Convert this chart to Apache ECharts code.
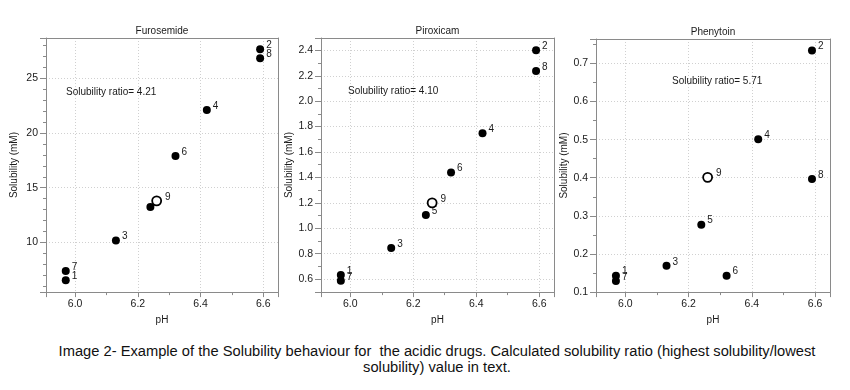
<!DOCTYPE html>
<html>
<head>
<meta charset="utf-8">
<script src="https://cdn.jsdelivr.net/npm/echarts@6/dist/echarts.min.js"></script>
<style>
  html, body { margin: 0; padding: 0; background: #fff; }
  #chart { width: 850px; height: 330px; }
  #caption { position: relative; left: 12px; width: 850px; text-align: center; font-family: 'Liberation Sans', Arial, sans-serif; font-size: 14.7px; line-height: 16px; color: #111; margin-top: 13px; }
</style>
</head>
<body>
<div id="chart"></div>
<div id="caption">Image 2- Example of the Solubility behaviour for&nbsp; the acidic drugs. Calculated solubility ratio (highest solubility/lowest<br>solubility) value in text.</div>
<script>
// ---- data ----
const pointIds = ['1', '2', '3', '4', '5', '6', '7', '8', '9'];
const pH = [5.97, 6.59, 6.13, 6.42, 6.24, 6.32, 5.97, 6.59, 6.26];
const drugNames = ['Furosemide', 'Piroxicam', 'Phenytoin'];
const furosemide = [6.53, 27.67, 10.18, 22.12, 13.24, 17.9, 7.38, 26.85, 13.8];
const piroxicam = [0.633, 2.40, 0.844, 1.747, 1.105, 1.438, 0.587, 2.238, 1.2];
const phenytoin = [0.143, 0.734, 0.169, 0.501, 0.277, 0.143, 0.129, 0.397, 0.401];
const ratios = ['4.21', '4.10', '5.71'];
const openPointId = '9';
const hiddenLabels = [['5'], [], []];

// ---- layout / style ----
const FONT = "'Liberation Sans', Arial, sans-serif";
const grids = [
  { left: 46, top: 38, width: 232, height: 264 },
  { left: 321, top: 38, width: 233, height: 263 },
  { left: 596, top: 39, width: 234, height: 262 }
];
const xRange = [5.907, 6.647];
const yRanges = [[5.45, 28.7], [0.498, 2.497], [0.1, 0.764]];
const ySplit = [5, 10, 6];
const yMinor = [5, 2, 2];
const yShowMin = [false, false, true];
const ratioPos = [[66, 87], [348, 86], [672, 76]];
const solubility = [furosemide, piroxicam, phenytoin];

const axisColor = '#8a8a8a';
const textColor = '#1a1a1a';

const option = {
  animation: false,
  backgroundColor: '#fff',
  textStyle: { fontFamily: FONT },
  title: [],
  grid: [],
  xAxis: [],
  yAxis: [],
  series: []
};

drugNames.forEach((name, i) => {
  const g = grids[i];
  option.grid.push(Object.assign({ show: false }, g));
  option.title.push({
    text: name, left: g.left + g.width / 2, top: g.top - 12, textAlign: 'center', padding: 0,
    textStyle: { fontSize: 10, fontWeight: 'normal', color: textColor, fontFamily: FONT }
  });
  option.title.push({
    text: 'Solubility ratio= ' + ratios[i], left: ratioPos[i][0], top: ratioPos[i][1], padding: 0,
    textStyle: { fontSize: 10, fontWeight: 'normal', color: textColor, fontFamily: FONT }
  });
  const splitLine = { show: true, showMinLine: false, showMaxLine: false, lineStyle: { color: '#d0d0d0', type: [1, 2], width: 1 } };
  option.xAxis.push({
    type: 'value', gridIndex: i, position: 'bottom', min: xRange[0], max: xRange[1], splitNumber: 4,
    name: 'pH', nameLocation: 'middle', nameGap: 21,
    nameTextStyle: { fontSize: 10, color: textColor, fontFamily: FONT },
    axisLine: { show: true, onZero: false, lineStyle: { color: axisColor, width: 1 } },
    axisTick: { show: true, inside: false, length: 5, lineStyle: { color: axisColor } },
    minorTick: { show: true, splitNumber: 2, length: 3, lineStyle: { color: axisColor } },
    axisLabel: { fontSize: 10.5, color: textColor, margin: 7, showMinLabel: false, showMaxLabel: false,
      formatter: v => v.toFixed(1) },
    splitLine: splitLine
  });
  option.yAxis.push({
    type: 'value', gridIndex: i, position: 'left', min: yRanges[i][0], max: yRanges[i][1], splitNumber: ySplit[i],
    name: 'Solubility (mM)', nameLocation: 'middle', nameGap: 27, nameRotate: 90,
    nameTextStyle: { fontSize: 10, color: textColor, fontFamily: FONT },
    axisLine: { show: true, onZero: false, lineStyle: { color: axisColor, width: 1 } },
    axisTick: { show: true, inside: false, length: 6, lineStyle: { color: axisColor } },
    minorTick: { show: true, splitNumber: yMinor[i], length: 3, lineStyle: { color: axisColor } },
    axisLabel: { fontSize: 10.5, color: textColor, margin: 8, showMinLabel: yShowMin[i], showMaxLabel: false,
      formatter: v => (i === 0 ? String(Math.round(v)) : v.toFixed(1)) },
    splitLine: splitLine
  });

  const filled = [];
  const open = [];
  pointIds.forEach((id, k) => {
    const item = {
      value: [pH[k], solubility[i][k]],
      label: { show: hiddenLabels[i].indexOf(id) < 0, formatter: id }
    };
    if (id === openPointId) open.push(item); else filled.push(item);
  });
  const labelStyle = { position: 'right', distance: 2, offset: [0, -4], fontSize: 10, color: textColor, fontFamily: FONT };
  option.series.push({
    type: 'scatter', xAxisIndex: i, yAxisIndex: i, symbol: 'circle', symbolSize: 8,
    itemStyle: { color: '#000', opacity: 1 }, label: labelStyle, data: filled, z: 3
  });
  option.series.push({
    type: 'scatter', xAxisIndex: i, yAxisIndex: i, symbol: 'circle', symbolSize: 9,
    itemStyle: { color: '#fff', borderColor: '#000', borderWidth: 1.8, opacity: 1 },
    label: Object.assign({}, labelStyle, { distance: 3 }), data: open, z: 4
  });
});

// frame axes (top and right edges of each box)
drugNames.forEach((name, i) => {
  option.xAxis.push({
    type: 'value', gridIndex: i, position: 'top', min: xRange[0], max: xRange[1],
    axisLine: { show: true, onZero: false, lineStyle: { color: axisColor, width: 1 } },
    axisTick: { show: false }, axisLabel: { show: false }, splitLine: { show: false }
  });
  option.yAxis.push({
    type: 'value', gridIndex: i, position: 'right', min: yRanges[i][0], max: yRanges[i][1],
    axisLine: { show: true, onZero: false, lineStyle: { color: axisColor, width: 1 } },
    axisTick: { show: false }, axisLabel: { show: false }, splitLine: { show: false }
  });
});

const chart = echarts.init(document.getElementById('chart'), null, { renderer: 'canvas' });
chart.setOption(option);
</script>
</body>
</html>
